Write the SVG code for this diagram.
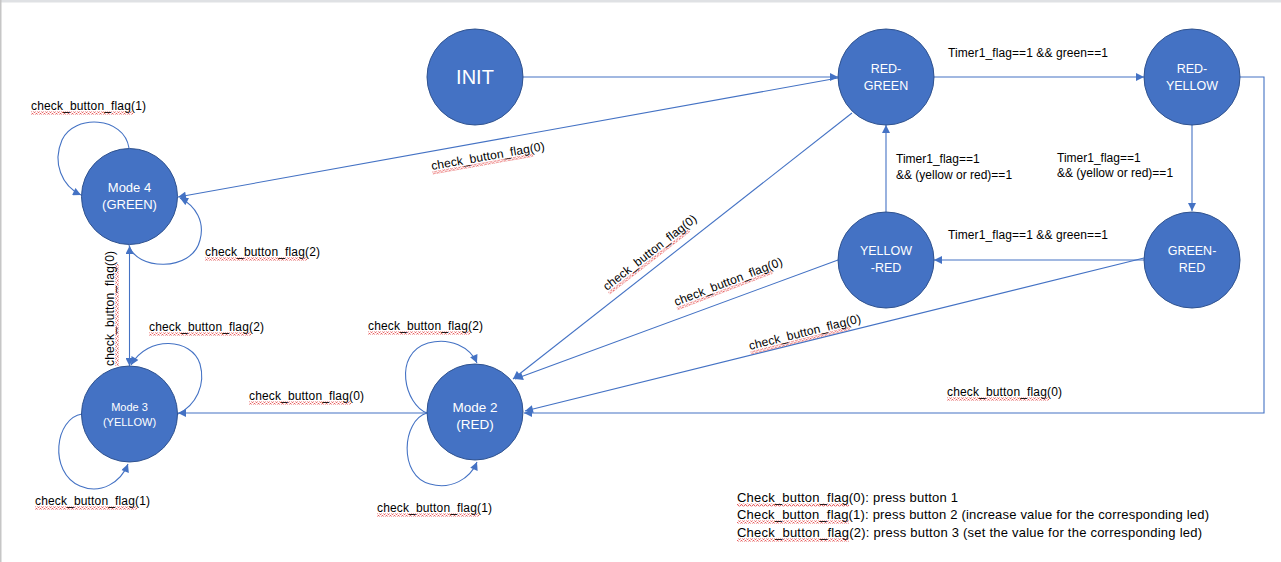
<svg xmlns="http://www.w3.org/2000/svg" width="1281" height="562" viewBox="0 0 1281 562">
  <style>
    .node { fill: #4472C4; stroke: #2F528F; stroke-width: 1; }
    .ntxt { font-family: "Liberation Sans", Arial, sans-serif; fill: #ffffff; text-anchor: middle; }
    .edge { fill: none; stroke: #4472C4; stroke-width: 1.1; }
    .arr { marker-end: url(#ah); }
    .lbl { font-family: "Liberation Sans", Arial, sans-serif; font-size: 12px; fill: #000000; }
    .leg { font-family: "Liberation Sans", Arial, sans-serif; font-size: 13px; fill: #000000; }
    .sq { fill: url(#squig); }
  </style>
  <defs>
    <marker id="ah" viewBox="0 0 10 10" refX="10" refY="5" markerWidth="9" markerHeight="8" markerUnits="userSpaceOnUse" orient="auto-start-reverse">
      <path d="M0,0 L10,5 L0,10 z" fill="#4472C4"/>
    </marker>
    <pattern id="squig" width="4" height="3" patternUnits="userSpaceOnUse">
      <path d="M0,2.4 L1,0.6 L2,0.6 L3,2.4 L4,2.4" fill="none" stroke="#e23a3a" stroke-width="0.8"/>
    </pattern>
  </defs>

  <!-- page background and frame -->
  <rect x="0" y="0" width="1281" height="562" fill="#ffffff"/>
  <rect x="0" y="0" width="1281" height="2.5" fill="#dfe1e4"/>
  <rect x="0" y="0" width="1.5" height="562" fill="#c6c6c6"/>

  <!-- connectors -->
  <g id="connectors">
    <path class="edge arr" d="M523,77 L838,77"/>
    <path class="edge arr" d="M934,77 L1144,77"/>
    <path class="edge arr" d="M1192,125 L1192,211"/>
    <path class="edge arr" d="M886,212 L886,125"/>
    <path class="edge arr" d="M1144,260 L934,260"/>
    <path class="edge arr" d="M1240,77 L1264,77 L1264,413 L524,413"/>
    <path class="edge arr" d="M1144,258 L525,411"/>
    <path class="edge arr" d="M838,260 L515,379"/>
    <path class="edge arr" d="M852,113 L513,379"/>
    <path class="edge arr" d="M838,78 L178,197"/>
    <path class="edge arr" d="M129.5,246 L129.5,366" marker-start="url(#ah)"/>
    <path class="edge arr" d="M427,413 L178,413"/>

    <!-- self loops -->
    <path class="edge arr" d="M129,148 C124,116 74,114 62,140 C52,163 62,186 81,195"/>
    <path class="edge arr" d="M129,245 C135,270 192,273 200,240 C205,222 196,206 180,198"/>
    <path class="edge arr" d="M178,414 C196,405 206,385 200,364 C192,338 148,335 131,365"/>
    <path class="edge arr" d="M82,414 C55,418 48,472 80,486 C101,495 121,482 128,464"/>
    <path class="edge arr" d="M427,413 C405,405 392,354 428,343 C450,337 470,347 477,363"/>
    <path class="edge arr" d="M427,413 C402,420 398,476 430,484 C451,490 470,479 477,462"/>
  </g>

  <!-- connector labels -->
  <g id="labels">
    <text class="lbl" x="948" y="57" textLength="160">Timer1_flag==1 &amp;&amp; green==1</text>
    <text class="lbl" x="948" y="239" textLength="160">Timer1_flag==1 &amp;&amp; green==1</text>
    <text class="lbl" x="1057" y="162">Timer1_flag==1</text>
    <text class="lbl" x="1057" y="177">&amp;&amp; (yellow or red)==1</text>
    <text class="lbl" x="896" y="163">Timer1_flag==1</text>
    <text class="lbl" x="896" y="179">&amp;&amp; (yellow or red)==1</text>

    <g transform="translate(31,110)"><rect class="sq" x="0" y="1.5" width="102" height="3"/><text class="lbl" textLength="115">check_button_flag(1)</text></g>
    <g transform="translate(205,256)"><rect class="sq" x="0" y="1.5" width="102" height="3"/><text class="lbl" textLength="115">check_button_flag(2)</text></g>
    <g transform="translate(114,366) rotate(-90)"><rect class="sq" x="0" y="1.5" width="102" height="3"/><text class="lbl" textLength="115">check_button_flag(0)</text></g>
    <g transform="translate(149,331)"><rect class="sq" x="0" y="1.5" width="102" height="3"/><text class="lbl" textLength="115">check_button_flag(2)</text></g>
    <g transform="translate(35,505)"><rect class="sq" x="0" y="1.5" width="102" height="3"/><text class="lbl" textLength="115">check_button_flag(1)</text></g>
    <g transform="translate(249,400)"><rect class="sq" x="0" y="1.5" width="102" height="3"/><text class="lbl" textLength="115">check_button_flag(0)</text></g>
    <g transform="translate(368,330)"><rect class="sq" x="0" y="1.5" width="102" height="3"/><text class="lbl" textLength="115">check_button_flag(2)</text></g>
    <g transform="translate(377,512)"><rect class="sq" x="0" y="1.5" width="102" height="3"/><text class="lbl" textLength="115">check_button_flag(1)</text></g>
    <g transform="translate(947,396)"><rect class="sq" x="0" y="1.5" width="102" height="3"/><text class="lbl" textLength="115">check_button_flag(0)</text></g>
    <g transform="translate(432,170) rotate(-10)"><rect class="sq" x="0" y="1.5" width="102" height="3"/><text class="lbl" textLength="115">check_button_flag(0)</text></g>
    <g transform="translate(607,291) rotate(-38)"><rect class="sq" x="0" y="1.5" width="102" height="3"/><text class="lbl" textLength="115">check_button_flag(0)</text></g>
    <g transform="translate(676,306) rotate(-21)"><rect class="sq" x="0" y="1.5" width="102" height="3"/><text class="lbl" textLength="115">check_button_flag(0)</text></g>
    <g transform="translate(750,350) rotate(-14)"><rect class="sq" x="0" y="1.5" width="102" height="3"/><text class="lbl" textLength="115">check_button_flag(0)</text></g>
  </g>

  <!-- states -->
  <g id="init">
    <circle class="node" cx="475" cy="77" r="48"/>
    <text class="ntxt" x="475" y="84" font-size="20">INIT</text>
  </g>
  <g id="red-green">
    <circle class="node" cx="886" cy="77" r="48"/>
    <text class="ntxt" x="886" y="73" font-size="12.5">RED-</text>
    <text class="ntxt" x="886" y="90" font-size="12.5">GREEN</text>
  </g>
  <g id="red-yellow">
    <circle class="node" cx="1192" cy="77" r="48"/>
    <text class="ntxt" x="1192" y="73" font-size="12.5">RED-</text>
    <text class="ntxt" x="1192" y="90" font-size="12.5">YELLOW</text>
  </g>
  <g id="yellow-red">
    <circle class="node" cx="886" cy="260" r="48"/>
    <text class="ntxt" x="886" y="255" font-size="12.5">YELLOW</text>
    <text class="ntxt" x="886" y="272" font-size="12.5">-RED</text>
  </g>
  <g id="green-red">
    <circle class="node" cx="1192" cy="260" r="48"/>
    <text class="ntxt" x="1192" y="255" font-size="12.5">GREEN-</text>
    <text class="ntxt" x="1192" y="272" font-size="12.5">RED</text>
  </g>
  <g id="mode4">
    <circle class="node" cx="129.5" cy="196.5" r="48"/>
    <text class="ntxt" x="129.5" y="192" font-size="13">Mode 4</text>
    <text class="ntxt" x="129.5" y="209" font-size="13">(GREEN)</text>
  </g>
  <g id="mode3">
    <circle class="node" cx="129.5" cy="414" r="48"/>
    <text class="ntxt" x="129.5" y="411" font-size="11">Mode 3</text>
    <text class="ntxt" x="129.5" y="426" font-size="11">(YELLOW)</text>
  </g>
  <g id="mode2">
    <circle class="node" cx="475" cy="412" r="48"/>
    <text class="ntxt" x="475" y="412" font-size="13.5">Mode 2</text>
    <text class="ntxt" x="475" y="429" font-size="13.5">(RED)</text>
  </g>

  <!-- legend -->
  <g id="legend">
    <rect class="sq" x="737" y="503.5" width="112" height="3"/>
    <text class="leg" x="737" y="502" textLength="221">Check_button_flag(0): press button 1</text>
    <rect class="sq" x="737" y="520.5" width="112" height="3"/>
    <text class="leg" x="737" y="519" textLength="472">Check_button_flag(1): press button 2 (increase value for the corresponding led)</text>
    <rect class="sq" x="737" y="538.5" width="112" height="3"/>
    <text class="leg" x="737" y="537" textLength="465">Check_button_flag(2): press button 3 (set the value for the corresponding led)</text>
  </g>
</svg>
